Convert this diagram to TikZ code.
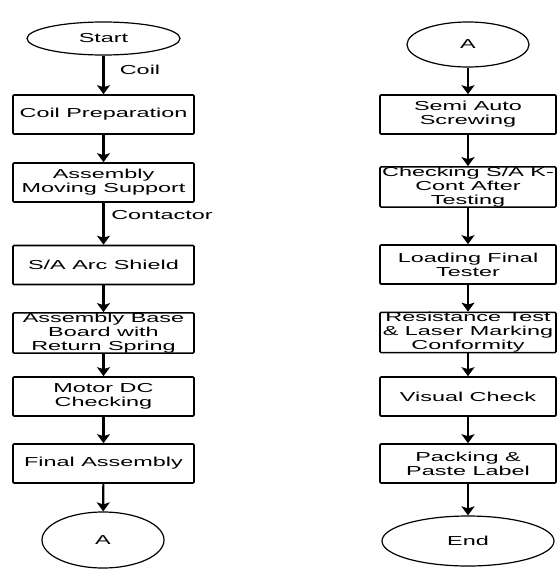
\documentclass[tikz,border=0pt]{standalone}
\usepackage{fontspec}
\setmainfont{Liberation Sans}[FakeStretch=1.8]
\usetikzlibrary{arrows.meta, shapes.geometric}
\tikzset{
  every picture/.style={line width=1.6pt},
  stepbox/.style={draw, rectangle, rounded corners=1pt, minimum width=181pt, minimum height=39pt, inner sep=0pt, align=center, font=\fontsize{13}{14}\selectfont},
  term/.style={draw, ellipse, line width=1.2pt, inner sep=0pt, font=\fontsize{13}{14}\selectfont},
  flow/.style={-{Stealth[length=9pt, width=13pt, inset=2pt]}, line width=2.2pt},
  flowlabel/.style={font=\fontsize{13}{14}\selectfont},
}
\begin{document}
\begin{tikzpicture}[x=1pt, y=-1pt]
  \useasboundingbox (0,0) rectangle (557,570);
  % left column
  \node[term, minimum width=153pt, minimum height=33pt] (start) at (103.5,38.5) {Start};
  \foreach \n/\y/\t in {l1/114.5/{Coil Preparation}, l2/182.5/{Assembly\\Moving Support},
      l3/265/{S/A Arc Shield}, l4/333/{Assembly Base\\Board with\\Return Spring},
      l5/396.5/{Motor DC\\Checking}, l6/463.5/{Final Assembly}}
    \node[stepbox] (\n) at (103.5,\y) {\t};
  \node[term, minimum width=122pt, minimum height=56pt] (linkl) at (103,540) {A};
  \foreach \a/\b in {start/l1, l1/l2, l2/l3, l3/l4, l4/l5, l5/l6, l6/linkl}
    \draw[flow] (\a) -- (\b);
  \node[flowlabel] (coil) at (140,70) {Coil};
  \node[flowlabel] (contactor) at (162,215) {Contactor};
  % right column
  \node[term, minimum width=122pt, minimum height=45pt] (linkr) at (468,44.5) {A};
  \foreach \n/\y/\t in {r1/114.5/{Semi Auto\\Screwing}, r2/187/{Checking S/A K-\\Cont After\\Testing},
      r3/264.5/{Loading Final\\Tester}, r4/332.5/{Resistance Test\\\& Laser Marking\\Conformity},
      r5/396.5/{Visual Check}, r6/463.5/{Packing \&\\Paste Label}}
    \node[stepbox, minimum width=176pt] (\n) at (468,\y) {\t};
  \node[term, minimum width=172pt, minimum height=50pt] (finish) at (468,541) {End};
  \foreach \a/\b in {linkr/r1, r1/r2, r2/r3, r3/r4, r4/r5, r5/r6, r6/finish}
    \draw[flow] (\a) -- (\b);
\end{tikzpicture}
\end{document}
